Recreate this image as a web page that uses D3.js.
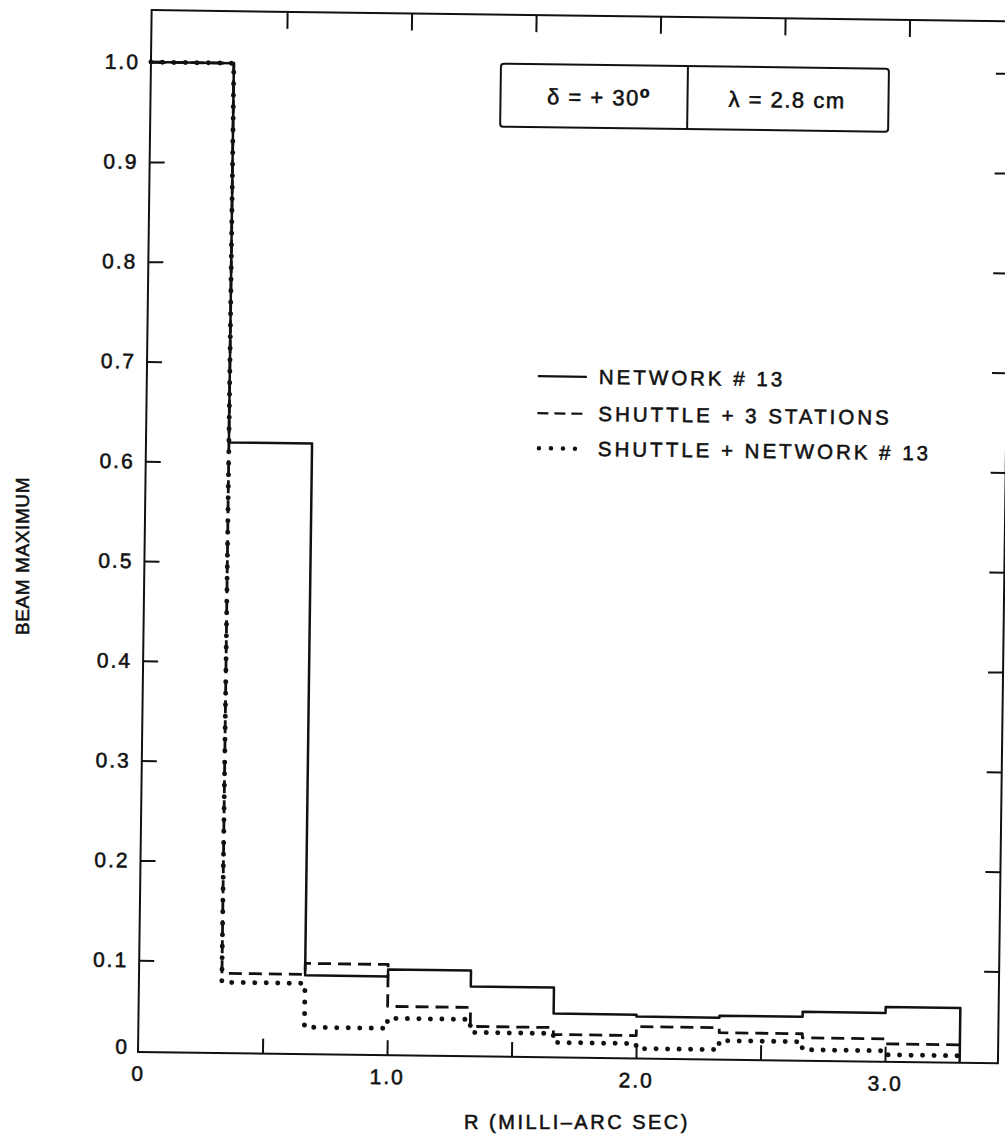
<!DOCTYPE html>
<html>
<head>
<meta charset="utf-8">
<script src="https://cdn.jsdelivr.net/npm/d3@7/dist/d3.min.js"></script>
<style>
  html, body { margin: 0; padding: 0; background: #fff; }
  svg { display: block; }
  text { font-family: "Liberation Sans", Arial, Helvetica, sans-serif; fill: #111; stroke: #111; stroke-width: 0.55px; }
</style>
</head>
<body>
<script>
// ---- data ----
const binEdges = [0, 0.333, 0.667, 1.0, 1.333, 1.667, 2.0, 2.333, 2.667, 3.0, 3.3];
const network13        = [1.0, 0.62, 0.087, 0.094, 0.078, 0.052, 0.050, 0.052, 0.057, 0.063];
const shuttle3Stations = [1.0, 0.088, 0.099, 0.057, 0.038, 0.031, 0.040, 0.035, 0.031, 0.026];
const shuttleNetwork13 = [1.0, 0.079, 0.035, 0.045, 0.032, 0.023, 0.018, 0.027, 0.019, 0.015];
const seriesLabels = ["NETWORK # 13", "SHUTTLE + 3 STATIONS", "SHUTTLE + NETWORK # 13"];
const xTickValues = [0.5, 1.0, 1.5, 2.0, 2.5, 3.0];
const xLabelValues = [0, 1.0, 2.0, 3.0];
const xLabelText = ["0", "1.0", "2.0", "3.0"];
const yTickValues = [0.1, 0.2, 0.3, 0.4, 0.5, 0.6, 0.7, 0.8, 0.9, 1.0];
const yLabelText = ["0.1", "0.2", "0.3", "0.4", "0.5", "0.6", "0.7", "0.8", "0.9", "1.0"];
const xTitle = "R (MILLI\u2013ARC SEC)";
const yTitle = "BEAM MAXIMUM";
const boxLeft = "\u03B4 = + 30";
const boxRight = "\u03BB = 2.8 cm";

// ---- layout ----
const W = 1005, H = 1141;
const pL = 138, pR = 998, pT = 10, pB = 1052;

const svg = d3.select("body").append("svg").attr("width", W).attr("height", H);
svg.append("rect").attr("width", W).attr("height", H).attr("fill", "#fff");

const x = d3.scaleLinear().domain([0, 1]).range([pL, pL + 249]);
const y = d3.scaleLinear().domain([0, 1]).range([1060, 62]);

const g = svg.append("g").attr("transform", `rotate(0.75, ${pL}, ${pB})`);

// frame
g.append("rect").attr("x", pL).attr("y", pT).attr("width", pR - pL).attr("height", pB - pT)
  .attr("fill", "none").attr("stroke", "#111").attr("stroke-width", 2);

// ticks
const axBottom = d3.axisBottom(x).tickValues(xTickValues).tickSize(-15).tickFormat("");
g.append("g").attr("transform", `translate(0,${pB})`).call(axBottom);
const axTop = d3.axisTop(x).tickValues(xTickValues).tickSize(-17).tickFormat("");
g.append("g").attr("transform", `translate(11,${pT})`).call(axTop);
const axLeft = d3.axisLeft(y).tickValues(yTickValues).tickSize(-15).tickFormat("");
g.append("g").attr("transform", `translate(${pL},0)`).call(axLeft);
const axRight = d3.axisRight(y).tickValues(yTickValues).tickSize(-15).tickFormat("");
g.append("g").attr("transform", `translate(${pR},0)`).call(axRight);
g.selectAll(".domain").remove();
g.selectAll(".tick line").attr("stroke", "#111").attr("stroke-width", 2);

// tick labels
const axLabX = d3.axisBottom(x).tickValues(xLabelValues).tickSize(0).tickPadding(14)
  .tickFormat((d, i) => xLabelText[i]);
g.append("g").attr("class", "lab").attr("transform", `translate(0,${pB})`).call(axLabX);
const axLabY = d3.axisLeft(y).tickValues(yTickValues).tickSize(0).tickPadding(11)
  .tickFormat((d, i) => yLabelText[i]);
g.append("g").attr("class", "lab").attr("transform", `translate(${pL},0)`).call(axLabY);
g.selectAll(".lab .domain").remove();
g.selectAll(".lab text").attr("font-size", 21).attr("letter-spacing", 2)
  .attr("font-family", "Liberation Sans, Arial, sans-serif").attr("fill", "#111");
g.append("text").attr("x", pL - 11).attr("y", pB + 2).attr("text-anchor", "end")
  .attr("font-size", 21).text("0");

// step lines
function stepPoints(vals) {
  const pts = vals.map((v, i) => [binEdges[i], v]);
  pts.push([binEdges[binEdges.length - 1], vals[vals.length - 1]]);
  return pts;
}
const line = d3.line().x(d => x(d[0])).y(d => y(d[1])).curve(d3.curveStepAfter);

const styles = [
  { data: network13, dash: null, width: 2.5, cap: "butt" },
  { data: shuttle3Stations, dash: "13,7", width: 2.8, cap: "butt" },
  { data: shuttleNetwork13, dash: "0,11.5", width: 5, cap: "round" }
];
styles.forEach((s, k) => {
  let d = line(stepPoints(s.data));
  if (k === 0) d += `V${pB}`;
  g.append("path").attr("d", d).attr("fill", "none").attr("stroke", "#111")
    .attr("stroke-width", s.width).attr("stroke-dasharray", s.dash).attr("stroke-linecap", s.cap)
    .attr("stroke-linejoin", "round");
});

// parameter box
const bx0 = 488, bx1 = 876, by0 = 59, by1 = 122, bmid = 675;
g.append("rect").attr("x", bx0).attr("y", by0).attr("width", bx1 - bx0).attr("height", by1 - by0)
  .attr("rx", 3).attr("fill", "#fff").attr("stroke", "#111").attr("stroke-width", 2);
g.append("line").attr("x1", bmid).attr("x2", bmid).attr("y1", by0).attr("y2", by1)
  .attr("stroke", "#111").attr("stroke-width", 2);
const t1 = g.append("text").attr("x", (bx0 + bmid) / 2 + 5).attr("y", 99).attr("text-anchor", "middle")
  .attr("font-size", 22).attr("letter-spacing", 1.5);
t1.append("tspan").text(boxLeft);
t1.append("tspan").attr("dy", -8).attr("font-size", 16).attr("font-weight", "bold").text("o");
g.append("text").attr("x", (bmid + bx1) / 2 - 1).attr("y", 99).attr("text-anchor", "middle")
  .attr("font-size", 22).attr("letter-spacing", 1.5).text(boxRight);

// legend
const legY = [378, 415, 450];
const lx0 = 529, lx1 = 578, ltx = 590;
styles.forEach((s, k) => {
  g.append("line").attr("x1", k === 2 ? lx0 + 2 : lx0).attr("x2", lx1)
    .attr("y1", legY[k] - 7).attr("y2", legY[k] - 7)
    .attr("stroke", "#111").attr("stroke-width", k === 2 ? 4.5 : 2.2)
    .attr("stroke-dasharray", k === 1 ? "11,6" : (k === 2 ? "0,12" : null))
    .attr("stroke-linecap", s.cap);
  g.append("text").attr("x", ltx).attr("y", legY[k]).attr("font-size", 20.5)
    .attr("letter-spacing", 3).text(seriesLabels[k]);
});

// axis titles
svg.append("text").attr("x", 577).attr("y", 1129).attr("text-anchor", "middle")
  .attr("font-size", 20).attr("letter-spacing", 2.5).text(xTitle);
svg.append("text").attr("transform", "translate(29,556) rotate(-90)").attr("text-anchor", "middle")
  .attr("font-size", 19).attr("letter-spacing", 0.6).text(yTitle);
</script>
</body>
</html>
